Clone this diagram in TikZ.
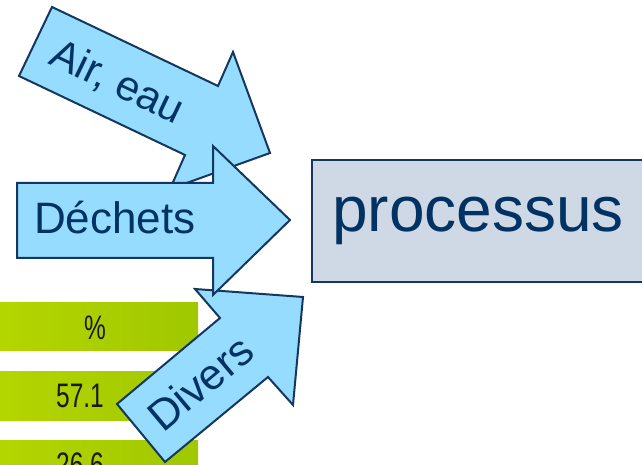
\documentclass[tikz,border=0pt]{standalone}
\usepackage{fontspec}
\setmainfont{Liberation Sans}
\definecolor{arrowblue}{RGB}{150,220,255}
\definecolor{navyline}{RGB}{20,55,95}
\definecolor{navytext}{RGB}{0,50,100}
\definecolor{boxgray}{RGB}{206,217,229}
\definecolor{barleft}{RGB}{180,214,0}
\definecolor{barright}{RGB}{160,200,0}
\begin{document}
\begin{tikzpicture}[x=1pt,y=1pt]

\def\ARROWFILL{arrowblue}
\def\ARROWLINE{navyline}
	\useasboundingbox (0,0) rectangle (642,465);
	\clip (0,0) rectangle (642,465);
	% table behind
	\shade[left color=barleft,right color=barright] (-5,114) rectangle (198,162);
	\shade[left color=barleft,right color=barright] (-5,44) rectangle (198,93);
	\shade[left color=barleft,right color=barright] (-5,-5) rectangle (198,24);
	\node[xscale=0.72,text=black!90,font=\fontsize{34}{34}\selectfont] (pct) at (95,137) {\%};
	\node[xscale=0.72,text=black!90,font=\fontsize{34}{34}\selectfont] (v1) at (80,69) {57.1};
	\node[xscale=0.72,text=black!90,font=\fontsize{34}{34}\selectfont] (v2) at (80,0) {26.6};
	% arrows
	\draw[fill=\ARROWFILL,draw=\ARROWLINE,line width=2pt,line join=miter] (195,176) -- (303,168) -- (293,60) -- (268,88) -- (165,3) -- (117,61) -- (220,147) -- cycle;
	\draw[fill=\ARROWFILL,draw=\ARROWLINE,line width=2pt,line join=miter] (52,458) -- (218,379) -- (233,413) -- (270,312) -- (170,276) -- (185,310) -- (19,389) -- cycle;
	\draw[fill=\ARROWFILL,draw=\ARROWLINE,line width=2pt,line join=miter] (17,282) -- (213,282) -- (213,319) -- (290,245) -- (213,170) -- (213,207) -- (17,207) -- cycle;
	\node[rotate=40,text=navytext,font=\fontsize{43}{43}\selectfont] (divers) at (200,82) {Divers};
	\node[rotate=-25.5,text=navytext,font=\fontsize{42}{42}\selectfont] (air) at (117,382) {Air, eau};
	\node[anchor=base west,inner sep=0pt,text=navytext,font=\fontsize{44}{44}\selectfont] (dechets) at (34,231) {Déchets};
	% process box
	\draw[fill=boxgray,draw=\ARROWLINE,line width=2pt] (312,183) rectangle (660,305);
	\node[anchor=base west,inner sep=0pt,text=navytext,font=\fontsize{64}{64}\selectfont] (proc) at (332,233) {processus};

\end{tikzpicture}
\end{document}
